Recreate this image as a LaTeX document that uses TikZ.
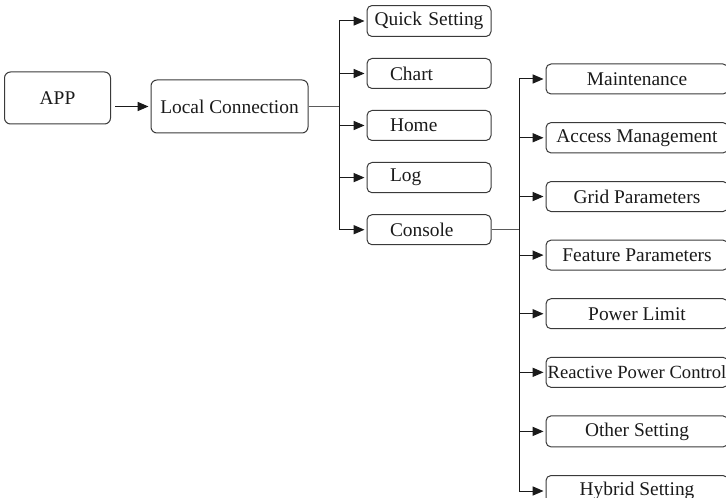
\documentclass[tikz,border=0pt]{standalone}
\usepackage{fontspec}
\setmainfont{Liberation Serif}
\usepackage{xcolor}
\usetikzlibrary{arrows.meta,positioning}
\definecolor{mnInk}{HTML}{1A1A1A}
\definecolor{mnBorder}{HTML}{3A3A3A}
\definecolor{mnBus}{HTML}{5A5A5A}
\newcommand\mnfont{\fontsize{9.7pt}{11pt}\selectfont}
\tikzset{
  % Top-level box (APP, Local Connection)
  topbox/.style={rectangle,rounded corners=3pt,
    minimum width=53pt,minimum height=26pt,
    align=center,draw=mnBorder,line width=0.5pt,
    font=\mnfont,text=mnInk},
  % Menu item box (left aligned text)
  menubox/.style={rectangle,rounded corners=2.5pt,
    text width=39pt,inner xsep=11.5pt,minimum height=15pt,
    align=left,draw=mnBorder,line width=0.5pt,
    font=\mnfont,text=mnInk},
  % Console setting box
  setbox/.style={rectangle,rounded corners=2.5pt,
    minimum width=91pt,inner xsep=0.5pt,minimum height=15pt,
    align=center,draw=mnBorder,line width=0.5pt,
    font=\mnfont,text=mnInk},
  % Arrows and bus lines
  arr/.style={-{Triangle[length=5.5pt,width=4.6pt]},line width=0.5pt,
    color=mnInk,shorten >=1pt},
  bus/.style={line width=0.5pt,color=mnBus},
}
\begin{document}
\begin{tikzpicture}[x=0.5pt,y=-0.5pt]
  \useasboundingbox (0,0) rectangle (726,497);

  \node[topbox] (app) at (57.5,98) {APP};
  \node[topbox,minimum width=78.5pt,minimum height=26.5pt] (lc)
    at (229.5,106.5) {Local Connection};

  % first level menu
  \node[menubox,text width=58pt,inner xsep=2pt,align=center] (quick)
    at (429,21) {Quick Setting};
  \node[menubox,below=10.5pt of quick] (chart) {Chart};
  \node[menubox,below=10.5pt of chart] (home) {Home};
  \node[menubox,below=10.5pt of home] (log) {Log};
  \node[menubox,below=10.5pt of log] (console) {Console};

  % console settings
  \node[setbox] (maint) at (637,79) {Maintenance};
  \node[setbox,below=13.8pt of maint] (access) {Access Management};
  \node[setbox,below=13.8pt of access] (grid) {Grid Parameters};
  \node[setbox,below=13.8pt of grid] (feature) {Feature Parameters};
  \node[setbox,below=13.8pt of feature] (plimit) {Power Limit};
  \node[setbox,below=13.8pt of plimit,
    font=\fontsize{9.3pt}{11pt}\selectfont] (reactive) {Reactive Power Control};
  \node[setbox,below=13.8pt of reactive] (other) {Other Setting};
  \node[setbox,below=13.8pt of other] (hybrid) {Hybrid Setting};

  \coordinate[right=15.5pt of lc.east] (lcbus);
  \coordinate[right=14pt of console.east] (conbus);

  \draw[arr,shorten <=2pt] (app.east |- lc) -- (lc);
  \draw[bus] (lc.east) -- (lcbus);
  \foreach \n in {quick,chart,home,log,console}
    \draw[arr] (lcbus) |- (\n);
  \draw[bus] (console.east) -- (conbus);
  \foreach \n in {maint,access,grid,feature,plimit,reactive,other,hybrid}
    \draw[arr] (conbus) |- (\n);
\end{tikzpicture}
\end{document}
